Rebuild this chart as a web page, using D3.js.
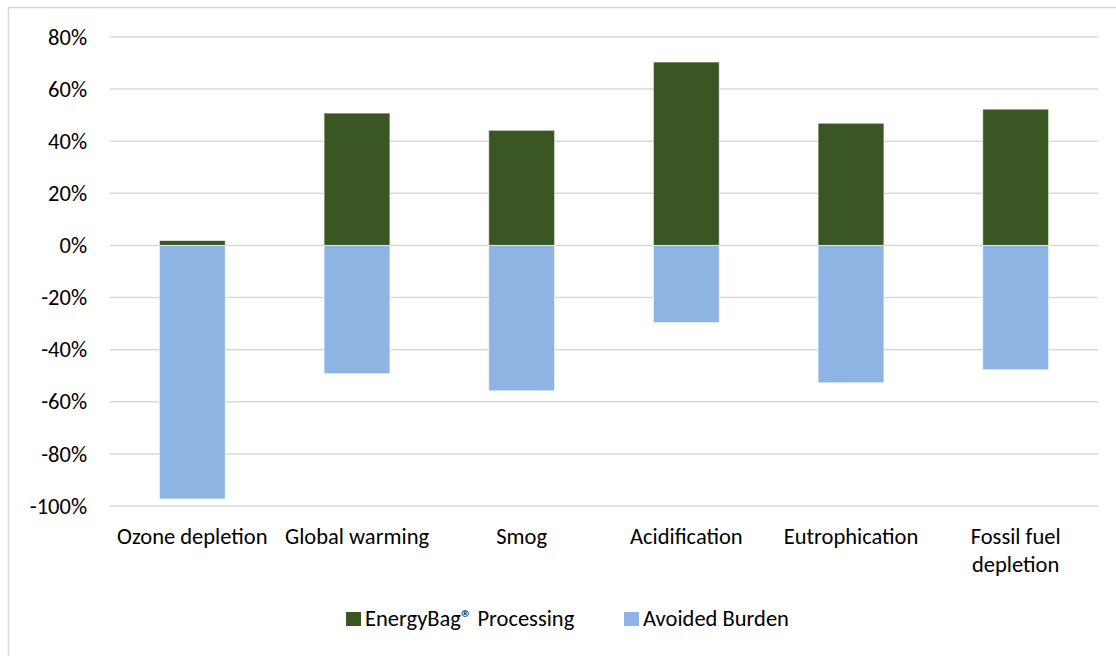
<!DOCTYPE html>
<html>
<head>
<meta charset="utf-8">
<script src="https://cdn.jsdelivr.net/npm/d3@7"></script>
<style>
	body { margin: 0; background: #fff; }
	text { font-family: Carlito, Calibri, Lato, sans-serif; fill: #000; }
</style>
</head>
<body>
<div id="chart"></div>
<script>
var categories = ["Ozone depletion", "Global warming", "Smog", "Acidification", "Eutrophication", "Fossil fuel depletion"];
var processing = [0.019, 0.508, 0.442, 0.704, 0.469, 0.523];
var avoided = [-0.973, -0.492, -0.558, -0.296, -0.527, -0.477];
var yTicks = [-1, -0.8, -0.6, -0.4, -0.2, 0, 0.2, 0.4, 0.6, 0.8];
var seriesNames = ["EnergyBag\u00AE Processing", "Avoided Burden"];
var colors = ["#3a5723", "#8eb4e3"];

var svgWidth = 1116;
var svgHeight = 656;
var fontSize = "22.5px";

var margin = { top: 37, bottom: 150, right: 18, left: 110 };
var width = 1098 - margin.left;
var height = 506 - margin.top;

var svg = d3.select("#chart")
	.append("svg")
	.attr("width", svgWidth)
	.attr("height", svgHeight);

// chart border
svg.append("rect")
	.attr("x", 8.5)
	.attr("y", 7.5)
	.attr("width", 1130)
	.attr("height", 670)
	.attr("fill", "none")
	.attr("stroke", "#d9d9d9")
	.attr("stroke-width", 1.5);

var chartGroup = svg.append("g")
	.attr("transform", `translate(${margin.left}, ${margin.top})`);

var x = d3.scaleBand()
	.domain(categories)
	.range([0, width])
	.paddingInner(0.6)
	.paddingOuter(0.3);

var y = d3.scaleLinear()
	.domain([-1, 0.8])
	.range([height, 0]);

// gridlines
chartGroup.selectAll(".grid")
	.data(yTicks)
	.enter()
	.append("line")
	.attr("x1", 0)
	.attr("x2", width)
	.attr("y1", d => y(d))
	.attr("y2", d => y(d))
	.attr("stroke", "#d9d9d9")
	.attr("stroke-width", 1.5);

// y axis labels (plain hyphen like excel)
var pct = d3.format(".0%");
var leftAxis = d3.axisLeft(y)
	.tickValues(yTicks)
	.tickFormat(d => pct(d).replace("\u2212", "-"))
	.tickSize(0)
	.tickPadding(23);

var yAxis = chartGroup.append("g").call(leftAxis);
yAxis.select(".domain").remove();
yAxis.selectAll("text")
	.attr("font-size", fontSize)
	.attr("font-family", "Carlito, Calibri, Lato, sans-serif")
	.attr("dy", "0.32em")
	.attr("fill", "#000");

// bars
chartGroup.selectAll(".pos")
	.data(processing)
	.enter()
	.append("rect")
	.attr("x", (d, i) => x(categories[i]))
	.attr("y", d => y(d))
	.attr("width", x.bandwidth())
	.attr("height", d => y(0) - y(d))
	.attr("fill", colors[0])
	.attr("stroke", "#fff")
	.attr("stroke-opacity", 0.6)
	.attr("stroke-width", 1);

chartGroup.selectAll(".neg")
	.data(avoided)
	.enter()
	.append("rect")
	.attr("x", (d, i) => x(categories[i]))
	.attr("y", y(0))
	.attr("width", x.bandwidth())
	.attr("height", d => y(d) - y(0))
	.attr("fill", colors[1])
	.attr("stroke", "#fff")
	.attr("stroke-opacity", 0.6)
	.attr("stroke-width", 1);

// category labels, wrapped the way excel does it
var wrapped = {
	"Fossil fuel depletion": ["Fossil fuel", "depletion"]
};

var catLabels = chartGroup.selectAll(".cat")
	.data(categories)
	.enter()
	.append("text")
	.attr("text-anchor", "middle")
	.attr("font-size", fontSize)
	.attr("transform", d => `translate(${x(d) + x.bandwidth() / 2}, ${height + 38})`);

catLabels.each(function(d) {
	var lines = wrapped[d] || [d];
	var t = d3.select(this);
	lines.forEach(function(line, i) {
		t.append("tspan")
			.attr("x", 0)
			.attr("y", i * 28)
			.text(line);
	});
});

// legend
var legend = svg.append("g")
	.attr("transform", "translate(0, 626)");

var legendX = [346, 624];
seriesNames.forEach(function(name, i) {
	legend.append("rect")
		.attr("x", legendX[i])
		.attr("y", -14)
		.attr("width", 15)
		.attr("height", 14)
		.attr("fill", colors[i]);
	legend.append("text")
		.attr("x", legendX[i] + 19)
		.attr("y", 0)
		.attr("font-size", fontSize)
		.text(name);
});
</script>
</body>
</html>
